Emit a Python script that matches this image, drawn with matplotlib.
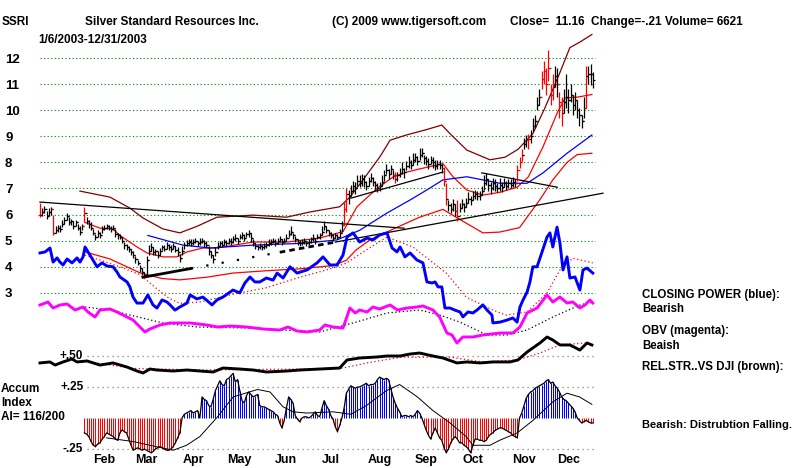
import matplotlib
matplotlib.use("Agg")
import matplotlib.pyplot as plt
import numpy as np

plt.rcParams['font.family'] = ['Liberation Sans', 'DejaVu Sans']
plt.rcParams['font.weight'] = 'bold'

# x axis = trading day index, 0 = 1/6/2003, 249 = 12/31/2003
month_names = ['Feb', 'Mar', 'Apr', 'May', 'Jun', 'Jul', 'Aug', 'Sep', 'Oct', 'Nov', 'Dec']
month_starts = [20, 39, 60, 81, 102, 122, 144, 165, 186, 209, 229]

# daily closes
closes = [
    6.00, 6.10, 6.20, 5.95, 6.10, 6.20, 5.30, 5.40, 5.50, 5.45,
    5.65, 5.80, 5.95, 5.70, 5.75, 5.55, 5.70, 5.50, 5.35, 5.55,
    6.05, 5.75, 5.65, 5.50, 5.30, 5.15, 5.30, 5.20, 5.45, 5.50,
    5.55, 5.50, 5.45, 5.50, 5.25, 5.20, 5.15, 5.00, 4.85, 4.75,
    4.70, 4.55, 4.45, 4.30, 4.15, 3.95, 3.80, 3.70, 4.25, 4.60,
    4.75, 4.55, 4.60, 4.45, 4.60, 4.75, 4.70, 4.85, 4.75, 4.70,
    4.80, 4.65, 4.55, 4.35, 4.60, 4.85, 4.90, 4.95, 4.90, 4.95,
    5.00, 4.90, 4.95, 5.00, 4.90, 4.85, 4.60, 4.45, 4.30, 4.55,
    4.80, 4.90, 4.85, 4.95, 4.90, 5.00, 4.95, 5.05, 5.10, 5.00,
    5.15, 5.20, 5.10, 5.25, 5.30, 5.10, 4.90, 4.80, 4.75, 4.80,
    4.75, 4.80, 4.85, 4.90, 4.95, 5.00, 4.90, 5.00, 5.05, 4.95,
    5.00, 5.10, 5.25, 5.35, 5.20, 5.05, 4.95, 4.90, 4.95, 5.00,
    4.90, 4.95, 5.05, 5.10, 5.00, 5.15, 5.20, 5.35, 5.55, 5.40,
    5.30, 5.20, 5.10, 5.20, 5.15, 5.30, 5.60, 6.20, 6.80, 6.70,
    6.90, 7.10, 7.00, 7.30, 7.20, 7.35, 7.25, 7.10, 7.30, 7.40,
    7.25, 7.15, 7.00, 7.10, 7.25, 7.50, 7.70, 7.55, 7.75, 7.50,
    7.35, 7.50, 7.60, 7.75, 7.65, 7.85, 8.00, 7.90, 8.10, 8.20,
    8.05, 8.30, 8.35, 8.15, 8.05, 7.95, 8.10, 8.00, 7.85, 7.95,
    7.90, 7.80, 7.30, 6.60, 6.35, 6.20, 6.40, 6.15, 5.95, 6.25,
    6.40, 6.30, 6.45, 6.60, 6.55, 6.70, 6.80, 6.70, 6.75, 6.90,
    7.20, 7.35, 7.15, 7.00, 7.20, 7.10, 7.00, 7.15, 7.05, 7.20,
    7.10, 7.20, 7.15, 7.25, 7.20, 7.70, 8.00, 8.30, 8.70, 8.85,
    8.90, 9.00, 9.40, 9.60, 10.20, 10.50, 11.20, 11.50, 11.00, 11.60,
    10.60, 10.90, 11.30, 11.00, 10.30, 9.90, 10.30, 10.50, 10.40, 10.60,
    10.20, 10.40, 10.00, 9.80, 9.60, 10.10, 11.30, 11.40, 11.37, 11.16,
]
# high above close / low below close, in cents
hi_cents = [
    45, 15, 12, 20, 15, 10, 70, 15, 12, 15, 15, 10, 10, 20, 10, 20, 10, 15, 20, 10,
    25, 15, 15, 20, 15, 10, 10, 15, 10, 10, 10, 12, 10, 10, 20, 10, 10, 15, 10, 12,
    10, 12, 15, 10, 12, 10, 15, 10, 15, 25, 15, 20, 10, 15, 12, 10, 15, 10, 12, 15,
    10, 15, 20, 15, 20, 10, 12, 10, 15, 10, 12, 10, 15, 10, 12, 15, 20, 15, 15, 20,
    15, 10, 12, 10, 12, 10, 15, 12, 15, 10, 12, 15, 15, 10, 12, 20, 15, 10, 10, 12,
    10, 12, 10, 15, 10, 12, 15, 10, 12, 10, 12, 15, 15, 20, 10, 12, 10, 12, 10, 12,
    10, 12, 10, 15, 10, 12, 10, 20, 20, 15, 10, 12, 15, 10, 12, 15, 15, 30, 20, 25,
    25, 20, 25, 20, 30, 20, 25, 20, 15, 20, 20, 15, 20, 15, 25, 20, 25, 20, 15, 20,
    30, 15, 20, 25, 15, 20, 25, 20, 25, 15, 20, 25, 20, 15, 20, 20, 15, 20, 25, 15,
    20, 15, 50, 60, 20, 25, 20, 25, 60, 20, 20, 15, 20, 25, 15, 20, 15, 20, 15, 20,
    30, 25, 20, 25, 20, 25, 20, 25, 20, 20, 20, 15, 20, 20, 15, 20, 20, 20, 25, 20,
    20, 25, 30, 20, 30, 30, 30, 40, 60, 70, 40, 50, 40, 60, 40, 60, 50, 90, 40, 40,
    40, 30, 40, 30, 20, 40, 40, 30, 40, 30,
]
lo_cents = [
    10, 15, 15, 10, 15, 20, 10, 12, 15, 10, 12, 15, 15, 10, 15, 12, 15, 10, 12, 15,
    35, 10, 15, 10, 10, 12, 15, 10, 15, 10, 10, 10, 12, 10, 10, 12, 10, 10, 15, 10,
    12, 10, 12, 15, 10, 15, 10, 10, 60, 15, 15, 10, 15, 12, 15, 10, 10, 15, 10, 12,
    12, 10, 12, 15, 15, 15, 10, 12, 10, 12, 10, 12, 10, 10, 15, 10, 15, 10, 15, 15,
    12, 10, 10, 12, 10, 12, 10, 15, 10, 12, 10, 12, 10, 12, 15, 15, 10, 12, 10, 10,
    10, 10, 12, 10, 12, 10, 10, 12, 10, 12, 10, 10, 12, 15, 15, 10, 12, 10, 10, 12,
    10, 10, 12, 10, 12, 10, 12, 15, 15, 12, 12, 10, 12, 10, 10, 15, 25, 60, 70, 30,
    20, 25, 20, 20, 15, 25, 20, 15, 20, 15, 15, 20, 15, 20, 15, 20, 15, 20, 20, 15,
    15, 20, 15, 20, 25, 15, 20, 15, 20, 20, 15, 20, 15, 20, 15, 20, 15, 20, 15, 20,
    15, 20, 20, 25, 20, 15, 25, 20, 20, 15, 15, 20, 15, 15, 20, 15, 20, 15, 20, 15,
    25, 20, 25, 20, 25, 20, 15, 25, 20, 15, 15, 20, 15, 20, 15, 40, 20, 25, 20, 25,
    40, 25, 20, 30, 20, 30, 40, 50, 40, 50, 40, 50, 40, 50, 60, 50, 40, 40, 50, 30,
    40, 40, 30, 40, 30, 40, 120, 40, 40, 30,
]
red_bars = [0, 6, 20, 137, 138, 160, 182, 183, 188, 215, 216, 217, 220,
            226, 227, 228, 229, 230, 231, 234, 235, 246]

# price-panel overlays (day index, price)
upper_x = [18, 31.5, 40.5, 46.4, 55.4, 63, 70.7, 79.7, 96, 111, 121.6, 135, 139.6, 145.5,
           153, 157.7, 165, 173.4, 181, 184.7, 192.3, 202.7, 209.5, 215.3, 222, 227.5,
           234, 238.7, 243, 248.6]
upper_y = [6.9, 6.67, 6.25, 5.87, 5.45, 5.3, 5.55, 5.9, 5.98, 5.9, 6.1, 6.3, 6.67, 7.33,
           8.2, 8.85, 9.05, 9.24, 9.43, 9.1, 8.47, 8.1, 8.2, 8.5, 9.1, 10.1,
           11.4, 12.4, 12.6, 12.9]
ma_x = [20.3, 27, 32.9, 36, 43.7, 48.2, 55.4, 61.7, 66.2, 73.4, 79.7, 96, 111.3, 126,
        136.5, 142.8, 151.8, 159, 165.3, 171, 181.5, 186, 192.3, 199.5, 207, 215, 220,
        226.6, 233, 236.5, 242, 248.6]
ma_y = [5.7, 5.48, 5.45, 5.2, 4.76, 4.53, 4.38, 4.38, 4.57, 4.72, 4.72, 4.95, 4.95, 5.1,
        5.35, 6.3, 7.0, 7.44, 7.63, 7.75, 7.95, 7.45, 6.94, 6.75, 6.85, 7.05, 7.45,
        8.6, 9.9, 10.47, 10.5, 10.6]
lower_x = [20.3, 31.5, 45, 55, 63, 75, 87, 102, 117, 132, 138, 142.3, 148.6, 161, 171,
           181.5, 188, 199.5, 207, 216, 225, 231, 237.4, 242, 248.6]
lower_y = [4.57, 4.3, 3.77, 3.55, 3.5, 3.6, 3.76, 3.85, 3.92, 4.05, 4.25, 4.64, 5.03, 5.52,
           5.9, 6.2, 5.87, 5.3, 5.33, 5.5, 6.55, 7.33, 8.0, 8.3, 8.35]
ma50_x = [48.6, 64.4, 76.6, 96, 118.5, 133.8, 144, 156.3, 166.7, 173.4, 181.5, 192.3,
          207.2, 219.4, 226.6, 237.4, 248.6]
ma50_y = [5.2, 4.83, 4.72, 4.83, 4.9, 5.03, 5.4, 6.06, 6.56, 6.9, 7.33, 7.45,
          7.2, 7.2, 7.6, 8.35, 9.05]

# trendlines (day index, price)
down_trend_x = [0, 164]
down_trend_y = [6.48, 5.48]
up_trend_x = [46.4, 253.6]
up_trend_y = [3.6, 6.82]
aug_trend_x = [140, 181.5]
aug_trend_y = [6.63, 7.63]
oct_trend_x = [199, 233]
oct_trend_y = [7.6, 7.05]

# closing power (blue), drawn in price units
cp_x = [0, 2.3, 4.5, 5.9, 7.7, 9, 10.4, 12.2, 14.4, 16.7, 18, 19.4, 20.3, 22.5, 25.7,
        27.9, 30.2, 32.9, 34.7, 36, 39.2, 40.5, 41.9, 43.7, 46.4, 48.6, 50.9, 52.7, 55,
        57.2, 58.6, 60.8, 63, 66.2, 67.6, 70.7, 73.4, 77.5, 79.7, 82.4, 85.6, 86.9, 90,
        92.3, 94.6, 96.8, 99, 102, 105, 106.8, 109.5, 112.6, 115.8, 120.3, 124.8, 127.5,
        130.6, 133.8, 136.5, 138.3, 141, 144, 147.3, 150, 153, 156.3, 158.6, 160.8,
        162.2, 164.4, 166.7, 169.8, 172.5, 174.3, 176.6, 178, 179.3, 181, 182.4, 184.7,
        186.9, 189.2, 190.5, 192.8, 195, 196.8, 199.5, 201.4, 203.6, 204, 207.2, 210.4,
        213, 214.9, 216.2, 217.6, 219.4, 220.7, 222, 223.9, 226, 228.4, 229.7, 231,
        232.9, 234.2, 235.6, 237.4, 238.7, 241, 243.2, 244.6, 246.4, 249]
cp_y = [4.53, 4.57, 4.72, 4.18, 4.34, 4.18, 4.07, 4.3, 4.15, 4.34, 4.18, 4.38, 4.76, 4.45,
        4.0, 4.15, 4.03, 4.0, 3.8, 3.61, 3.42, 3.23, 2.84, 2.61, 2.61, 2.92, 2.54, 2.42,
        2.73, 2.65, 2.54, 2.34, 2.46, 2.61, 2.92, 2.77, 2.84, 2.54, 2.73, 2.84, 3.03, 3.11,
        3.0, 3.38, 3.61, 3.42, 3.42, 3.57, 3.49, 3.76, 3.57, 4.0, 3.76, 3.88, 4.15, 4.38,
        4.07, 4.07, 4.45, 5.14, 5.3, 4.95, 5.1, 5.03, 5.22, 5.3, 4.72, 4.57,
        4.76, 4.38, 4.53, 4.26, 4.15, 3.42, 3.38, 3.42, 3.23, 3.23, 2.42, 2.42,
        2.34, 2.27, 2.08, 2.27, 2.23, 2.34, 2.54, 2.34, 2.15, 1.85, 1.88, 1.96,
        2.04, 1.88, 2.46, 2.73, 3.03, 3.42, 4.0, 4.0, 4.53, 5.14, 5.3, 4.76,
        5.52, 4.91, 3.88, 4.38, 3.57, 3.61, 3.11, 3.88, 3.95, 3.76]
cp_ma_x = [20.3, 36, 45, 52, 58, 63, 72, 87, 102, 117, 132, 138, 148, 156.3, 168, 183,
           192, 204, 210, 219.4, 228.4, 234.2, 240, 249]
cp_ma_y = [4.45, 4.0, 3.7, 3.2, 2.8, 2.6, 2.65, 2.95, 3.2, 3.6, 3.95, 4.14, 4.7, 5.14,
           4.76, 3.76, 2.84, 2.34, 2.15, 2.27, 3.0, 3.88, 4.33, 4.15]

# OBV (magenta), relative units
obv_x = [0, 3.6, 5.9, 9, 12.2, 15.8, 19.4, 21.6, 24.8, 27, 31.5, 34.7, 39.2, 41.9, 45,
         47.3, 49.5, 54, 58.6, 67.6, 75.2, 80, 85.6, 93.2, 100.5, 108, 111.7, 115.8,
         120.3, 126, 128.4, 132, 136.5, 139.6, 142, 144, 147.3, 150, 153, 157.7, 161,
         165.3, 169.8, 172.5, 177, 180, 183.3, 185.6, 187.8, 190.5, 195, 199.5, 207.2,
         213, 216.2, 219.4, 223.9, 228.4, 231, 234.2, 237.4, 240, 243.2, 245.5, 247.7, 249]
obv_y = [40, 43, 37, 40, 41, 35, 38, 33, 28, 35, 36, 33, 28, 25, 18,
         13, 16, 20, 22, 22, 20, 18, 19, 18, 16, 15, 18, 14,
         13, 15, 20, 18, 17, 37, 32, 35, 33, 38, 36, 40, 35,
         37, 38, 39, 35, 28, 12, 10, 2, 8, 8, 10, 12,
         12, 18, 32, 37, 50, 43, 48, 42, 43, 37, 40, 45, 42]
obv_ma_x = [20.3, 31.5, 40.5, 55.4, 70.7, 93.2, 126, 141, 156.3, 171, 180, 189, 201.4,
            210.4, 219.4, 231, 243.2, 249]
obv_ma_y = [38, 35, 30, 22, 18, 17, 13, 22, 32, 35, 30, 23, 10, 10, 15, 28, 40, 43]

# relative strength vs DJI (black), drawn around the +.50 line
rs_x = [0, 4.5, 6.8, 10.4, 14.4, 16.7, 21.2, 27, 32.9, 39.2, 43.7, 46.4, 49.5, 52.7, 60,
        66.2, 72, 78, 82.4, 90, 96, 102, 111.3, 117, 126, 135, 138.3, 144, 151.8, 156.3,
        162.2, 166.7, 171, 177, 181.5, 187.8, 192.3, 198.2, 204, 211.7, 215.3, 219.4, 222,
        225.2, 228.4, 231, 234.2, 238.7, 243.2, 246.4, 248.6]
rs_y = [0.444, 0.452, 0.427, 0.452, 0.476, 0.452, 0.46, 0.427, 0.444, 0.411, 0.379, 0.363,
        0.395, 0.387, 0.379, 0.387, 0.379, 0.371, 0.403, 0.395, 0.387, 0.371, 0.379, 0.387,
        0.395, 0.403, 0.468, 0.484, 0.492, 0.5, 0.5, 0.516, 0.524, 0.5, 0.484, 0.444, 0.452,
        0.444, 0.452, 0.452, 0.468, 0.532, 0.565, 0.605, 0.653, 0.629, 0.589, 0.589, 0.548,
        0.605, 0.589]
rs_ma_x = [19.4, 42, 72, 117, 136.5, 147.3, 162.2, 185, 199.5, 215, 225.2, 234.2, 245.5]
rs_ma_y = [0.46, 0.40, 0.387, 0.395, 0.403, 0.444, 0.49, 0.49, 0.452, 0.468, 0.524,
           0.589, 0.605]

# accumulation index, one value per day from index 20
ai_start = 20
ai_vals = [
    -0.12, -0.13, -0.15, -0.19, -0.22, -0.23, -0.21, -0.20, -0.17, -0.15,
    -0.12, -0.13, -0.14, -0.15, -0.17, -0.18, -0.12, -0.095, -0.11, -0.12,
    -0.17, -0.22, -0.26, -0.25, -0.24, -0.25, -0.26, -0.25, -0.26, -0.27,
    -0.28, -0.27, -0.25, -0.24, -0.23, -0.24, -0.25, -0.26, -0.26, -0.25,
    -0.23, -0.20, -0.16, -0.12, 0.0, 0.03, 0.04, 0.05, 0.06, 0.04,
    0.05, 0.06, 0.0, 0.17, 0.15, 0.14, 0.10, 0.09, 0.15, 0.22,
    0.26, 0.30, 0.27, 0.26, 0.31, 0.32, 0.34, 0.36, 0.29, 0.31,
    0.22, 0.14, 0.12, 0.18, 0.21, 0.19, 0.17, 0.18, 0.19, 0.10,
    0.09, 0.09, 0.08, 0.07, 0.06, 0.05, 0.03, 0.02, -0.04, -0.08,
    -0.02, 0.08, 0.17, 0.15, 0.12, 0.02, -0.01, -0.03, 0.0, 0.01,
    0.01, 0.0, 0.01, 0.03, 0.05, 0.02, 0.01, 0.08, 0.14, 0.10,
    0.07, 0.02, -0.01, -0.07, -0.11, -0.06, 0.0, 0.08, 0.20, 0.23,
    0.26, 0.25, 0.24, 0.25, 0.25, 0.26, 0.27, 0.28, 0.26, 0.27,
    0.27, 0.28, 0.31, 0.33, 0.32, 0.31, 0.32, 0.31, 0.24, 0.17,
    0.12, 0.08, 0.05, 0.01, 0.02, 0.02, 0.01, 0.02, 0.01, 0.03,
    0.06, 0.04, 0.0, -0.05, -0.10, -0.14, -0.17, -0.12, -0.08, -0.12,
    -0.16, -0.18, -0.24, -0.28, -0.25, -0.20, -0.17, -0.15, -0.17, -0.20,
    -0.20, -0.22, -0.23, -0.25, -0.28, -0.22, -0.17, -0.17, -0.18, -0.18,
    -0.19, -0.18, -0.15, -0.13, -0.12, -0.10, -0.09, -0.08, -0.08, -0.09,
    -0.10, -0.11, -0.12, -0.14, -0.15, -0.16, 0.0, 0.04, 0.10, 0.16,
    0.19, 0.21, 0.22, 0.24, 0.25, 0.26, 0.27, 0.28, 0.30, 0.31,
    0.28, 0.29, 0.26, 0.24, 0.21, 0.17, 0.15, 0.14, 0.12, 0.10,
    0.08, 0.05, 0.0, -0.02, -0.04, -0.03, -0.02, -0.03, -0.04, -0.04,
]
ai_ma_x = [30, 42, 49.5, 60, 66, 72, 80, 87, 98, 103.6, 109.5, 114, 120, 132, 140, 147,
           156, 162, 170, 177, 184.7, 192, 195, 202.7, 207, 215, 222, 231, 237.4, 243, 248.6]
ai_ma_y = [-0.16, -0.19, -0.22, -0.26, -0.22, -0.15, 0.01, 0.17, 0.23, 0.21, 0.09, 0.05,
           0.04, 0.05, 0.03, 0.10, 0.22, 0.27, 0.17, 0.06, -0.04, -0.15, -0.22, -0.22,
           -0.18, -0.12, -0.02, 0.13, 0.20, 0.17, 0.11]
ai_levels = [0.50, 0.25, -0.25]
ai_level_labels = ['+.50', '+.25', '-.25']

price_levels = list(range(3, 13))

# ---------------- figure ----------------
W, H = 800, 468
fig = plt.figure(figsize=(W / 100, H / 100), dpi=100)
rect = [30 / W, 0, 580 / W, 448 / H]
xlim = (-4.5, 256.76)


def overlay(label, ylim):
    a = fig.add_axes(rect, label=label)
    a.set_xlim(*xlim)
    a.set_ylim(*ylim)
    a.set_facecolor('none')
    a.axis('off')
    return a


ax = fig.add_axes(rect, label='price')
ax.set_xlim(*xlim)
ax.set_ylim(-3.709, 13.456)
for s in ax.spines.values():
    s.set_visible(False)
ax.set_xticks([])
ax.set_yticks(price_levels)
ax.set_yticklabels([str(p) for p in price_levels])
ax.tick_params(axis='y', length=0, pad=18, labelsize=9.5)
for lbl in ax.get_yticklabels():
    lbl.set_horizontalalignment('left')
    lbl.set_fontweight('bold')
ax.hlines(price_levels, 0, 250, colors='#008000', linestyles=(0, (1, 2.2)), lw=0.8)

ax_obv = overlay('obv', (-123, 325))
ax_ai = overlay('ai', (-0.4032, 3.2097))

# bands and averages
ax.plot(upper_x, upper_y, color='#800000', lw=0.9)
ax.plot(lower_x, lower_y, color='#ff0000', lw=0.9)
ax.plot(ma_x, ma_y, color='#ff0000', lw=0.9)
ax.plot(ma50_x, ma50_y, color='#0000ff', lw=0.9)

# trendlines
ax.plot(down_trend_x, down_trend_y, color='black', lw=0.9)
seg = lambda a, b: ([a, b], list(np.interp([a, b], up_trend_x, up_trend_y)))
sx, sy = seg(46.4, 68)
ax.plot(sx, sy, color='black', lw=2)
sx, sy = seg(68, 108)
ax.plot(sx, sy, color='black', lw=1.6, linestyle=(0, (1, 6)))
sx, sy = seg(108, 133)
ax.plot(sx, sy, color='black', lw=2, linestyle=(0, (2, 1.5)))
sx, sy = seg(133, 253.6)
ax.plot(sx, sy, color='black', lw=0.9)
ax.plot(aug_trend_x, aug_trend_y, color='black', lw=0.9)
ax.plot(oct_trend_x, oct_trend_y, color='black', lw=0.9)

# OHLC-style bars
x = np.arange(len(closes))
c = np.array(closes)
hi = c + np.array(hi_cents) / 100
lo = c - np.array(lo_cents) / 100
prev = np.r_[c[0], c[:-1]]
bar_colors = ['#ff0000' if i in red_bars else 'black' for i in x]
ax.vlines(x, lo, hi, colors=bar_colors, lw=0.9)
ax.hlines(c, x, x + 0.9, colors=bar_colors, lw=0.9)
ax.hlines(prev, x - 0.9, x, colors=bar_colors, lw=0.9)

# closing power
ax.plot(cp_ma_x, cp_ma_y, color='#ff0000', lw=0.9, linestyle=(0, (1, 2)))
ax.plot(cp_x, cp_y, color='#0000ff', lw=2.1)

# OBV
ax_obv.plot(obv_ma_x, obv_ma_y, color='black', lw=0.9, linestyle=(0, (1, 2)))
ax_obv.plot(obv_x, obv_y, color='#ff00ff', lw=2.1)

# accumulation index panel
ax_ai.hlines(ai_levels, 21, 250, colors='#808080', linestyles=(0, (1, 3)), lw=0.9)
for lv, txt in zip(ai_levels, ai_level_labels):
    ax_ai.text(19.5, lv, txt, ha='right', va='center', fontsize=8.5, fontweight='bold')
ai = np.array(ai_vals)
ai_x = np.arange(ai_start, ai_start + len(ai))
ax_ai.vlines(ai_x, 0, ai, colors=np.where(ai >= 0, '#0000ff', '#ff0000'), lw=0.75)
ax_ai.plot(ai_x, ai, color='black', lw=0.9)
ax_ai.plot(ai_ma_x, ai_ma_y, color='black', lw=0.7)

# relative strength
ax_ai.plot(rs_ma_x, rs_ma_y, color='#ff0000', lw=0.9, linestyle=(0, (1, 2)))
ax_ai.plot(rs_x, rs_y, color='black', lw=2.1)

# month labels
for name, m in zip(month_names, month_starts):
    ax_ai.text(m + 9, -0.339, name, ha='center', va='center', fontsize=9, fontweight='bold')


def ftext(px, py, s, size=8.5):
    fig.text(px / W, 1 - py / H, s, ha='left', va='center', fontsize=size, fontweight='bold')


ftext(2, 22, 'SSRI')
ftext(85, 22, 'Silver Standard Resources Inc.')
ftext(332, 22, '(C) 2009 www.tigersoft.com')
ftext(510, 22, 'Close=  11.16  Change=-.21 Volume= 6621')
ftext(38, 40, '1/6/2003-12/31/2003')

ftext(642, 295, 'CLOSING POWER (blue):', 8.3)
ftext(642, 309, 'Bearish', 8.3)
ftext(642, 331, 'OBV (magenta):', 8.3)
ftext(642, 346, 'Beaish', 8.3)
ftext(642, 367, 'REL.STR..VS DJI (brown):', 8.3)
ftext(642, 425, 'Bearish: Distrubtion Falling.', 8)

ftext(1, 389, 'Accum')
ftext(1, 403, 'Index')
ftext(1, 417, 'AI= 116/200')

fig.savefig('out.png', dpi=100)
